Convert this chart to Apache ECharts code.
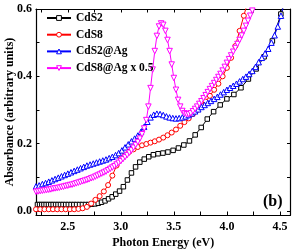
<!DOCTYPE html>
<html><head><meta charset="utf-8">
<script src="https://cdn.jsdelivr.net/npm/echarts@6/dist/echarts.min.js"></script>
<style>html,body{margin:0;padding:0;background:#fff}#c{width:292px;height:252px}</style>
</head><body><div id="c"></div>
<script>
// ---- data ----
const seriesNames = ['CdS2', 'CdS8', 'CdS2@Ag', 'CdS8@Ag x 0.5'];

const eCdS2 = [2.214,2.234,2.255,2.275,2.296,2.318,2.340,2.362,2.385,2.408,2.431,2.455,2.480,2.505,2.531,2.557,2.583,2.611,2.638,2.667,2.696,2.725,2.756,2.787,2.818,2.851,2.884,2.918,2.952,2.988,3.024,3.062,3.100,3.139,3.179,3.221,3.263,3.307,3.351,3.397,3.444,3.493,3.543,3.594,3.647,3.701,3.758,3.815,3.875,3.937,4.000,4.066,4.133,4.203,4.276,4.351,4.429,4.509,4.593];
const yCdS2 = [0.019,0.019,0.019,0.019,0.019,0.019,0.019,0.019,0.019,0.019,0.019,0.019,0.019,0.019,0.019,0.019,0.019,0.019,0.019,0.019,0.019,0.020,0.021,0.023,0.026,0.030,0.036,0.042,0.050,0.059,0.072,0.092,0.113,0.131,0.145,0.154,0.161,0.167,0.170,0.172,0.175,0.180,0.187,0.196,0.208,0.226,0.248,0.273,0.295,0.315,0.333,0.346,0.366,0.392,0.422,0.458,0.505,0.585,0.680];

const eCdS8 = [2.20,2.24,2.28,2.32,2.36,2.40,2.44,2.48,2.52,2.56,2.60,2.64,2.68,2.72,2.76,2.80,2.84,2.88,2.92,2.96,3.00,3.04,3.08,3.12,3.16,3.20,3.24,3.28,3.32,3.36,3.40,3.44,3.48,3.52,3.56,3.60,3.64,3.68,3.72,3.76,3.80,3.84,3.88,3.92,3.96,4.00,4.04,4.08,4.12,4.16,4.20];
const yCdS8 = [0.005,0.005,0.005,0.005,0.005,0.005,0.005,0.005,0.005,0.005,0.006,0.008,0.012,0.022,0.033,0.044,0.058,0.077,0.105,0.135,0.155,0.167,0.176,0.183,0.190,0.195,0.199,0.203,0.207,0.212,0.218,0.225,0.233,0.242,0.253,0.264,0.275,0.288,0.300,0.312,0.325,0.342,0.360,0.378,0.400,0.425,0.455,0.490,0.535,0.580,0.625];

const eCdS2Ag = [2.20,2.23,2.26,2.29,2.32,2.35,2.38,2.41,2.44,2.47,2.50,2.53,2.56,2.59,2.62,2.65,2.68,2.71,2.74,2.77,2.80,2.83,2.86,2.89,2.92,2.95,2.98,3.01,3.04,3.07,3.10,3.13,3.16,3.19,3.22,3.25,3.28,3.31,3.34,3.37,3.40,3.43,3.46,3.49,3.52,3.55,3.58,3.61,3.64,3.67,3.70,3.73,3.76,3.79,3.82,3.85,3.88,3.91,3.94,3.97,4.00,4.03,4.06,4.09,4.12,4.15,4.18,4.21,4.24,4.27,4.30,4.33,4.36,4.39,4.42,4.45,4.48,4.51,4.54];
const yCdS2Ag = [0.073,0.076,0.080,0.083,0.087,0.091,0.095,0.099,0.103,0.107,0.111,0.115,0.119,0.123,0.127,0.131,0.135,0.138,0.141,0.144,0.147,0.150,0.153,0.157,0.161,0.166,0.172,0.180,0.189,0.198,0.207,0.215,0.224,0.235,0.250,0.265,0.278,0.286,0.289,0.288,0.285,0.281,0.278,0.276,0.275,0.276,0.278,0.281,0.285,0.290,0.296,0.302,0.309,0.315,0.321,0.327,0.333,0.339,0.346,0.353,0.360,0.366,0.372,0.378,0.385,0.392,0.399,0.407,0.416,0.428,0.442,0.455,0.468,0.482,0.500,0.522,0.548,0.580,0.615];

const eCdS8Ag = [2.20,2.22,2.24,2.26,2.28,2.30,2.32,2.34,2.36,2.38,2.40,2.42,2.44,2.46,2.48,2.50,2.52,2.54,2.56,2.58,2.60,2.62,2.64,2.66,2.68,2.70,2.72,2.74,2.76,2.78,2.80,2.82,2.84,2.86,2.88,2.90,2.92,2.94,2.96,2.98,3.00,3.02,3.04,3.06,3.08,3.10,3.12,3.14,3.16,3.18,3.20,3.22,3.24,3.26,3.28,3.30,3.32,3.34,3.36,3.38,3.40,3.42,3.44,3.46,3.48,3.50,3.52,3.54,3.56,3.58,3.60,3.62,3.64,3.66,3.68,3.70,3.72,3.74,3.76,3.78,3.80,3.82,3.84,3.86,3.88,3.90,3.92,3.94,3.96,3.98,4.00,4.02,4.04,4.06,4.08,4.10,4.12,4.14,4.16,4.18,4.20,4.22,4.24,4.26];
const yCdS8Ag = [0.057,0.058,0.059,0.060,0.061,0.062,0.063,0.064,0.066,0.067,0.068,0.069,0.071,0.072,0.074,0.075,0.077,0.078,0.080,0.082,0.084,0.086,0.088,0.090,0.092,0.094,0.097,0.099,0.102,0.105,0.108,0.111,0.114,0.117,0.121,0.125,0.129,0.133,0.138,0.143,0.148,0.154,0.160,0.166,0.173,0.180,0.188,0.196,0.205,0.215,0.228,0.245,0.270,0.310,0.365,0.420,0.475,0.520,0.548,0.557,0.553,0.535,0.508,0.475,0.435,0.395,0.360,0.330,0.310,0.297,0.290,0.287,0.287,0.290,0.296,0.303,0.310,0.318,0.326,0.335,0.344,0.353,0.362,0.371,0.380,0.389,0.398,0.407,0.417,0.428,0.440,0.451,0.462,0.473,0.484,0.496,0.508,0.521,0.535,0.550,0.565,0.580,0.595,0.610];

const xTicks = [2.25,2.5,2.75,3.0,3.25,3.5,3.75,4.0,4.25,4.5];
const xTickLabels = [2.5,3.0,3.5,4.0,4.5];
const yTicks = [0,0.1,0.2,0.3,0.4,0.5,0.6];
const yTickLabels = [0,0.2,0.4,0.6];

// ---- chart ----
const FONT = 'Liberation Serif';
const zip = (xs, ys) => xs.map((x, i) => [x, ys[i]]);
const colors = ['#000000', '#ff0000', '#0000ff', '#ff00ff'];
const symbols = ['rect', 'circle', 'triangle', 'triangle'];
const rotations = [0, 0, 0, 180];
const sizes = [4.5, 5, 5.5, 5.5];
const dataSets = [[eCdS2, yCdS2], [eCdS8, yCdS8], [eCdS2Ag, yCdS2Ag], [eCdS8Ag, yCdS8Ag]];

const chart = echarts.init(document.getElementById('c'), null, {renderer: 'canvas'});
const axisBase = (extra) => Object.assign({
  type: 'value',
  splitLine: {show: false},
  nameMoveOverlap: false,
  axisLine: {show: true, onZero: false, lineStyle: {color: '#000', width: 1.2}},
}, extra);

chart.setOption({
  animation: false,
  backgroundColor: '#fff',
  grid: {left: 36, right: 1.5, top: 9, bottom: 37, containLabel: false, outerBoundsMode: 'none'},
  xAxis: [
    axisBase({
      min: 2.2, max: 4.6, position: 'bottom',
      name: 'Photon Energy (eV)', nameLocation: 'middle', nameGap: 22,
      nameTextStyle: {fontFamily: FONT, fontWeight: 'bold', fontSize: 12, color: '#000'},
      axisTick: {show: true, inside: true, length: 3.5, customValues: xTicks, lineStyle: {color: '#000'}},
      axisLabel: {customValues: xTickLabels, formatter: v => v.toFixed(1), margin: 6,
        fontFamily: FONT, fontWeight: 'bold', fontSize: 12, color: '#000'}
    }),
    axisBase({
      min: 2.2, max: 4.6, position: 'top',
      axisTick: {show: true, inside: true, length: 3.5, customValues: xTicks, lineStyle: {color: '#000'}},
      axisLabel: {show: false}
    })
  ],
  yAxis: [
    axisBase({
      min: -0.012, max: 0.6, position: 'left',
      name: 'Absorbance (arbitrary units)', nameLocation: 'middle', nameGap: 20,
      nameTextStyle: {fontFamily: FONT, fontWeight: 'bold', fontSize: 12, color: '#000'},
      axisTick: {show: true, inside: true, length: 3.5, customValues: yTicks, lineStyle: {color: '#000'}},
      axisLabel: {customValues: yTickLabels, formatter: v => v.toFixed(1), margin: 4,
        fontFamily: FONT, fontWeight: 'bold', fontSize: 12, color: '#000'}
    }),
    axisBase({
      min: -0.012, max: 0.6, position: 'right',
      axisTick: {show: true, inside: true, length: 3.5, customValues: yTicks, lineStyle: {color: '#000'}},
      axisLabel: {show: false}
    })
  ],
  legend: {
    orient: 'vertical', left: 41, top: 7,
    itemWidth: 24, itemHeight: 6, itemGap: 4.7,
    itemStyle: {color: '#ffffff', borderWidth: 1},
    textStyle: {fontFamily: FONT, fontWeight: 'bold', fontSize: 11.5, lineHeight: 12, color: '#000'},
    data: seriesNames
  },
  graphic: [{
    type: 'text', left: 263, top: 194,
    style: {text: '(b)', font: 'bold 16px "Liberation Serif"', fill: '#000'}
  }],
  series: dataSets.map((d, i) => ({
    name: seriesNames[i],
    type: 'line',
    data: zip(d[0], d[1]),
    symbol: symbols[i],
    symbolRotate: rotations[i],
    symbolSize: sizes[i],
    showAllSymbol: true,
    clip: true,
    color: colors[i],
    lineStyle: {color: colors[i], width: 1},
    itemStyle: {color: '#ffffff', borderColor: colors[i], borderWidth: 1}
  }))
});
</script></body></html>
